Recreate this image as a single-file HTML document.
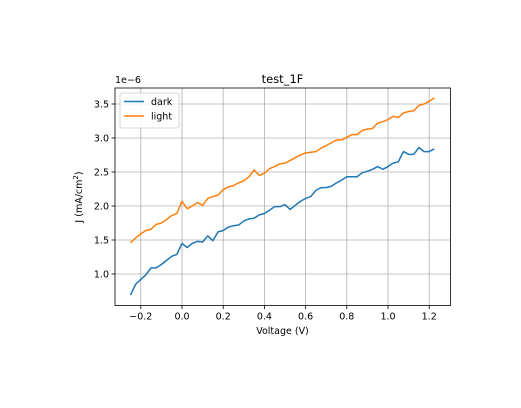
<!DOCTYPE html>
<html><head><meta charset="utf-8"><style>
html,body{margin:0;padding:0;background:#fff;}
svg{display:block;font-family:"DejaVu Sans","Liberation Sans",sans-serif;}
</style></head><body>
<svg id="chart" width="521" height="408" viewBox="0 0 521 408">
<rect x="0" y="0" width="521" height="408" fill="#fff"/>
<g id="grid"></g>
<g id="series"></g>
<rect x="115" y="88" width="335.5" height="217.5" fill="none" stroke="#000" stroke-width="0.8"/>
<g id="ticks"></g>
<text x="282.5" y="83" font-size="11.5" text-anchor="middle">test_1F</text>
<text x="115" y="83" font-size="9.5">1e−6</text>
<text x="282.5" y="334" font-size="9.5" text-anchor="middle">Voltage (V)</text>
<text transform="translate(82,197) rotate(-90)" font-size="9.5" text-anchor="middle">J (mA/cm<tspan font-size="7" dy="-4">2</tspan><tspan dy="4">)</tspan></text>
<g>
<rect x="120" y="93" width="59" height="35" rx="2" fill="#fff" fill-opacity="0.8" stroke="#ccc" stroke-width="0.8"/>
<line x1="124" y1="101.5" x2="144" y2="101.5" stroke="#1f77b4" stroke-width="1.5"/>
<text x="151" y="105" font-size="9.5">dark</text>
<line x1="124" y1="116" x2="144" y2="116" stroke="#ff7f0e" stroke-width="1.5"/>
<text x="151" y="119.5" font-size="9.5">light</text>
</g>
</svg>
<script>
const voltages = [-0.25,-0.225,-0.2,-0.175,-0.15,-0.125,-0.1,-0.075,-0.05,-0.025,0,0.025,0.05,0.075,0.1,0.125,0.15,0.175,0.2,0.225,0.25,0.275,0.3,0.325,0.35,0.375,0.4,0.425,0.45,0.475,0.5,0.525,0.55,0.575,0.6,0.625,0.65,0.675,0.7,0.725,0.75,0.775,0.8,0.825,0.85,0.875,0.9,0.925,0.95,0.975,1.0,1.025,1.05,1.075,1.1,1.125,1.15,1.175,1.2,1.225];
const darkValues = [0.69,0.85,0.92,0.99,1.09,1.09,1.14,1.20,1.26,1.29,1.45,1.39,1.45,1.48,1.47,1.56,1.49,1.62,1.64,1.69,1.71,1.72,1.78,1.81,1.82,1.87,1.89,1.94,1.99,1.99,2.02,1.95,2.01,2.07,2.11,2.14,2.23,2.27,2.27,2.29,2.34,2.38,2.43,2.43,2.43,2.49,2.51,2.54,2.58,2.54,2.58,2.63,2.65,2.80,2.76,2.76,2.86,2.80,2.80,2.84];
const lightValues = [1.46,1.53,1.59,1.64,1.66,1.73,1.75,1.80,1.86,1.89,2.07,1.96,2.00,2.05,2.01,2.11,2.14,2.16,2.24,2.28,2.30,2.34,2.37,2.43,2.53,2.45,2.48,2.55,2.58,2.62,2.63,2.67,2.71,2.75,2.78,2.79,2.80,2.85,2.89,2.93,2.97,2.97,3.01,3.05,3.05,3.11,3.13,3.14,3.22,3.24,3.27,3.32,3.30,3.37,3.39,3.40,3.48,3.50,3.54,3.59];
const xTicks = [-0.2,0.0,0.2,0.4,0.6,0.8,1.0,1.2];
const xTickLabels = ["−0.2","0.0","0.2","0.4","0.6","0.8","1.0","1.2"];
const yTicks = [1.0,1.5,2.0,2.5,3.0,3.5];
const yTickLabels = ["1.0","1.5","2.0","2.5","3.0","3.5"];

const NS = "http://www.w3.org/2000/svg";
const L = 115, R = 450.5, T = 88, B = 305.5;
function xs(v){ return 182 + v * 206; }
function ys(v){ return 206 - (v - 2) * 68; }
function mk(tag, attrs, parent){
  const e = document.createElementNS(NS, tag);
  for (const k in attrs) e.setAttribute(k, attrs[k]);
  parent.appendChild(e);
  return e;
}
const grid = document.getElementById('grid');
const ticks = document.getElementById('ticks');
const series = document.getElementById('series');
xTicks.forEach((v, i) => {
  const x = xs(v);
  const g = mk('line', {x1:x, y1:T, x2:x, y2:B, stroke:'#b0b0b0', 'stroke-width':0.8}, grid);
  
  
  const t = mk('line', {x1:x, y1:B, x2:x, y2:B+3.5, stroke:'#000', 'stroke-width':0.8}, ticks);
  
  
  const lb = mk('text', {x:x, y:B+14, 'font-size':9.5, 'text-anchor':'middle'}, ticks);
  lb.textContent = xTickLabels[i];
  
  
});
yTicks.forEach((v, i) => {
  const y = ys(v);
  const g = mk('line', {x1:L, y1:y, x2:R, y2:y, stroke:'#b0b0b0', 'stroke-width':0.8}, grid);
  
  
  const t = mk('line', {x1:L-3.5, y1:y, x2:L, y2:y, stroke:'#000', 'stroke-width':0.8}, ticks);
  
  
  const lb = mk('text', {x:L-6, y:y+3.5, 'font-size':9.5, 'text-anchor':'end'}, ticks);
  lb.textContent = yTickLabels[i];
  
  
});
function drawLine(vals, color, name){
  const pts = vals.map((v, i) => xs(voltages[i]).toFixed(2) + ',' + ys(v).toFixed(2)).join(' ');
  const p = mk('polyline', {points:pts, fill:'none', stroke:color, 'stroke-width':1.5, 'stroke-linejoin':'round'}, series);
  
  
}
drawLine(darkValues, '#1f77b4', 'dark-line');
drawLine(lightValues, '#ff7f0e', 'light-line');
</script>
</body></html>
